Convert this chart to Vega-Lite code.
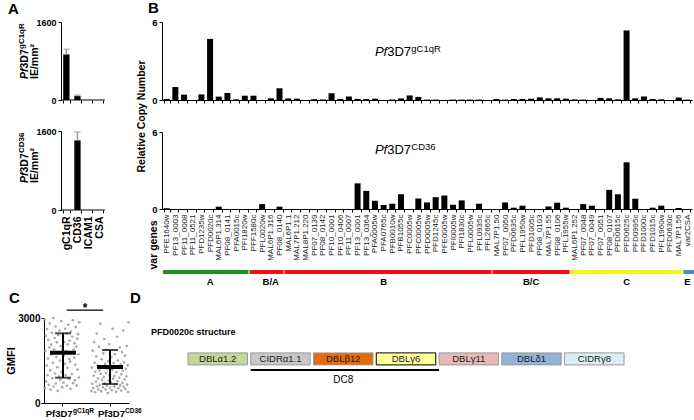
{
  "$schema": "https://vega.github.io/schema/vega-lite/v6.json",
  "padding": {"left": 5, "top": 1, "right": 0, "bottom": 0},
  "config": {
    "font": "Liberation Sans",
    "view": {"stroke": null},
    "axis": {"grid": false, "domainColor": "#000", "tickColor": "#000", "labelColor": "#000", "titleColor": "#000", "tickSize": 3, "labelFont": "Liberation Sans", "titleFont": "Liberation Sans"},
    "title": {"font": "Liberation Sans", "fontWeight": "bold", "fontSize": 15, "anchor": "start", "frame": "group", "color": "#000", "offset": 4}
  },
  "datasets": {
    "genes": [
      {"gene": "PFE1640w", "group": "A", "gC1qR": 0.08, "CD36": 0.06},
      {"gene": "PF13_0003", "group": "A", "gC1qR": 1.0, "CD36": 0},
      {"gene": "PF11_0008", "group": "A", "gC1qR": 0.41, "CD36": 0},
      {"gene": "PF11_0521", "group": "A", "gC1qR": 0, "CD36": 0},
      {"gene": "PFD1235w", "group": "A", "gC1qR": 0.43, "CD36": 0},
      {"gene": "PFD0020c", "group": "A", "gC1qR": 4.7, "CD36": 0},
      {"gene": "MAL6P1.314", "group": "A", "gC1qR": 0.26, "CD36": 0.18},
      {"gene": "PF08_0141", "group": "A", "gC1qR": 0.54, "CD36": 0},
      {"gene": "PFA0015c", "group": "A", "gC1qR": 0.05, "CD36": 0},
      {"gene": "PFI1820w", "group": "A", "gC1qR": 0.33, "CD36": 0},
      {"gene": "PFF1580c", "group": "B/A", "gC1qR": 0.33, "CD36": 0},
      {"gene": "PFL0020w", "group": "B/A", "gC1qR": 0, "CD36": 0.38},
      {"gene": "MAL6P1.316", "group": "B/A", "gC1qR": 0.13, "CD36": 0},
      {"gene": "PF08_0140", "group": "B/A", "gC1qR": 0.9, "CD36": 0.18},
      {"gene": "MAL6P1.1", "group": "B", "gC1qR": 0.12, "CD36": 0},
      {"gene": "MAL7P1.212", "group": "B", "gC1qR": 0.1, "CD36": 0},
      {"gene": "MAL8P1.220", "group": "B", "gC1qR": 0, "CD36": 0},
      {"gene": "PF07_0139", "group": "B", "gC1qR": 0.06, "CD36": 0},
      {"gene": "PF08_0142", "group": "B", "gC1qR": 0.04, "CD36": 0},
      {"gene": "PF10_0001", "group": "B", "gC1qR": 0.52, "CD36": 0},
      {"gene": "PF10_0406", "group": "B", "gC1qR": 0.08, "CD36": 0},
      {"gene": "PF11_0007", "group": "B", "gC1qR": 0.27, "CD36": 0},
      {"gene": "PF13_0001", "group": "B", "gC1qR": 0.08, "CD36": 2.0},
      {"gene": "PF13_0364", "group": "B", "gC1qR": 0.08, "CD36": 1.41},
      {"gene": "PFA0005w", "group": "B", "gC1qR": 0.1, "CD36": 0.64},
      {"gene": "PFA0765c", "group": "B", "gC1qR": 0, "CD36": 0.31},
      {"gene": "PFB0010w", "group": "B", "gC1qR": 0.04, "CD36": 0.41},
      {"gene": "PFB1055c", "group": "B", "gC1qR": 0.12, "CD36": 1.15},
      {"gene": "PFC0005w", "group": "B", "gC1qR": 0.35, "CD36": 0},
      {"gene": " PFC0005w", "group": "B", "gC1qR": 0.24, "CD36": 0.82},
      {"gene": "PFD0005w", "group": "B", "gC1qR": 0.03, "CD36": 0.51},
      {"gene": "PFD1245c", "group": "B", "gC1qR": 0.03, "CD36": 0.92},
      {"gene": "PFE0005w", "group": "B", "gC1qR": 0, "CD36": 1.05},
      {"gene": "PFI0005w", "group": "B", "gC1qR": 0.03, "CD36": 0.33},
      {"gene": "PFI1830c", "group": "B", "gC1qR": 0.03, "CD36": 0.67},
      {"gene": "PFL0005w", "group": "B", "gC1qR": 0.03, "CD36": 0},
      {"gene": "PFL0935c", "group": "B", "gC1qR": 0.03, "CD36": 0.41},
      {"gene": "PFL2665c", "group": "B", "gC1qR": 0, "CD36": 0},
      {"gene": "MAL7P1.50", "group": "B/C", "gC1qR": 0.08, "CD36": 0},
      {"gene": "PF07_0050", "group": "B/C", "gC1qR": 0.03, "CD36": 0.51},
      {"gene": "PFD0635c", "group": "B/C", "gC1qR": 0.08, "CD36": 0.1},
      {"gene": "PFL1950w", "group": "B/C", "gC1qR": 0.08, "CD36": 0.26},
      {"gene": "PFD1005c", "group": "B/C", "gC1qR": 0.1, "CD36": 0},
      {"gene": "PF08_0103", "group": "B/C", "gC1qR": 0.2, "CD36": 0},
      {"gene": "MAL7P1.55", "group": "B/C", "gC1qR": 0.13, "CD36": 0.2},
      {"gene": "PF08_0106", "group": "B/C", "gC1qR": 0.13, "CD36": 0.49},
      {"gene": "PFL1955w", "group": "B/C", "gC1qR": 0.1, "CD36": 0.1},
      {"gene": "MAL6P1.252", "group": "C", "gC1qR": 0.05, "CD36": 0},
      {"gene": "PF07_0048", "group": "C", "gC1qR": 0.03, "CD36": 0.38},
      {"gene": "PF07_0049", "group": "C", "gC1qR": 0, "CD36": 0.26},
      {"gene": "PF07_0051", "group": "C", "gC1qR": 0.16, "CD36": 0},
      {"gene": "PF08_0107", "group": "C", "gC1qR": 0.13, "CD36": 1.49},
      {"gene": "PFD0615c", "group": "C", "gC1qR": 0.05, "CD36": 1.15},
      {"gene": "PFD0625c", "group": "C", "gC1qR": 5.35, "CD36": 3.64},
      {"gene": "PFD0995c", "group": "C", "gC1qR": 0.13, "CD36": 0.8},
      {"gene": "PFD1000c", "group": "C", "gC1qR": 0.27, "CD36": 0},
      {"gene": "PFD1015c", "group": "C", "gC1qR": 0.08, "CD36": 0.1},
      {"gene": "PFL1960w", "group": "C", "gC1qR": 0.05, "CD36": 0.26},
      {"gene": "PFD0630c", "group": "C", "gC1qR": 0, "CD36": 0},
      {"gene": "MAL7P1.56", "group": "C", "gC1qR": 0.19, "CD36": 0.08},
      {"gene": "var2CSA", "group": "E", "gC1qR": 0.03, "CD36": 0}
    ],
    "groups": [
      {"group": "A", "anchor": "PFD0020c", "first": "PFE1640w"},
      {"group": "B/A", "anchor": "MAL6P1.316", "first": "PFF1580c"},
      {"group": "B", "anchor": "PFA0765c", "first": "MAL6P1.1"},
      {"group": "B/C", "anchor": "PFD1005c", "first": "MAL7P1.50"},
      {"group": "C", "anchor": "PFD0625c", "first": "MAL6P1.252"},
      {"group": "E", "anchor": "var2CSA", "first": "var2CSA"}
    ],
    "binding": [
      {"cat": "gC1qR", "top": 935, "topErr": 1040, "bottom": 0, "bottomErr": null},
      {"cat": "CD36", "top": 80, "topErr": 100, "bottom": 1410, "bottomErr": 1580},
      {"cat": "ICAM1", "top": 0, "topErr": null, "bottom": 0, "bottomErr": null},
      {"cat": "CSA", "top": 0, "topErr": null, "bottom": 0, "bottomErr": null}
    ],
    "gmfi": [
      {"g":"gC1qR","id":1,"v":2950},{"g":"gC1qR","id":2,"v":520},{"g":"gC1qR","id":3,"v":1840},{"g":"gC1qR","id":4,"v":2380},{"g":"gC1qR","id":5,"v":760},
      {"g":"gC1qR","id":6,"v":1320},{"g":"gC1qR","id":7,"v":2610},{"g":"gC1qR","id":8,"v":980},{"g":"gC1qR","id":9,"v":1570},{"g":"gC1qR","id":10,"v":2230},
      {"g":"gC1qR","id":11,"v":640},{"g":"gC1qR","id":12,"v":1960},{"g":"gC1qR","id":13,"v":2810},{"g":"gC1qR","id":14,"v":1150},{"g":"gC1qR","id":15,"v":470},
      {"g":"gC1qR","id":16,"v":2060},{"g":"gC1qR","id":17,"v":1710},{"g":"gC1qR","id":18,"v":2480},{"g":"gC1qR","id":19,"v":870},{"g":"gC1qR","id":20,"v":1420},
      {"g":"gC1qR","id":21,"v":3000},{"g":"gC1qR","id":22,"v":580},{"g":"gC1qR","id":23,"v":1890},{"g":"gC1qR","id":24,"v":2290},{"g":"gC1qR","id":25,"v":1040},
      {"g":"gC1qR","id":26,"v":2700},{"g":"gC1qR","id":27,"v":690},{"g":"gC1qR","id":28,"v":1620},{"g":"gC1qR","id":29,"v":2140},{"g":"gC1qR","id":30,"v":1260},
      {"g":"gC1qR","id":31,"v":430},{"g":"gC1qR","id":32,"v":2400},{"g":"gC1qR","id":33,"v":1790},{"g":"gC1qR","id":34,"v":930},{"g":"gC1qR","id":35,"v":2560},
      {"g":"gC1qR","id":36,"v":1500},{"g":"gC1qR","id":37,"v":810},{"g":"gC1qR","id":38,"v":2010},{"g":"gC1qR","id":39,"v":2890},{"g":"gC1qR","id":40,"v":1100},
      {"g":"gC1qR","id":41,"v":560},{"g":"gC1qR","id":42,"v":1930},{"g":"gC1qR","id":43,"v":2330},{"g":"gC1qR","id":44,"v":720},{"g":"gC1qR","id":45,"v":1680},
      {"g":"gC1qR","id":46,"v":2150},{"g":"gC1qR","id":47,"v":1380},{"g":"gC1qR","id":48,"v":2620},{"g":"gC1qR","id":49,"v":990},{"g":"gC1qR","id":50,"v":1830},
      {"g":"gC1qR","id":51,"v":2450},{"g":"gC1qR","id":52,"v":610},{"g":"gC1qR","id":53,"v":1240},{"g":"gC1qR","id":54,"v":2070},{"g":"gC1qR","id":55,"v":2760},
      {"g":"gC1qR","id":56,"v":850},{"g":"gC1qR","id":57,"v":1550},{"g":"gC1qR","id":58,"v":2200},{"g":"gC1qR","id":59,"v":1460},{"g":"gC1qR","id":60,"v":500},
      {"g":"gC1qR","id":61,"v":2520},{"g":"gC1qR","id":62,"v":1760},{"g":"gC1qR","id":63,"v":1020},{"g":"gC1qR","id":64,"v":2340},{"g":"gC1qR","id":65,"v":2920},
      {"g":"gC1qR","id":66,"v":700},{"g":"gC1qR","id":67,"v":1880},{"g":"gC1qR","id":68,"v":1600},{"g":"gC1qR","id":69,"v":2110},{"g":"gC1qR","id":70,"v":800},
      {"g":"gC1qR","id":71,"v":1350},{"g":"gC1qR","id":72,"v":2680},{"g":"gC1qR","id":73,"v":1990},{"g":"gC1qR","id":74,"v":620},{"g":"gC1qR","id":75,"v":2270},
      {"g":"gC1qR","id":76,"v":1180},{"g":"gC1qR","id":77,"v":2430},{"g":"gC1qR","id":78,"v":1720},{"g":"gC1qR","id":79,"v":900},{"g":"gC1qR","id":80,"v":2850},
      {"g":"CD36","id":1,"v":420},{"g":"CD36","id":2,"v":1250},{"g":"CD36","id":3,"v":680},{"g":"CD36","id":4,"v":1850},{"g":"CD36","id":5,"v":530},
      {"g":"CD36","id":6,"v":960},{"g":"CD36","id":7,"v":2150},{"g":"CD36","id":8,"v":1420},{"g":"CD36","id":9,"v":380},{"g":"CD36","id":10,"v":1100},
      {"g":"CD36","id":11,"v":760},{"g":"CD36","id":12,"v":1640},{"g":"CD36","id":13,"v":2450},{"g":"CD36","id":14,"v":590},{"g":"CD36","id":15,"v":1320},
      {"g":"CD36","id":16,"v":870},{"g":"CD36","id":17,"v":470},{"g":"CD36","id":18,"v":1980},{"g":"CD36","id":19,"v":1150},{"g":"CD36","id":20,"v":640},
      {"g":"CD36","id":21,"v":2800},{"g":"CD36","id":22,"v":1030},{"g":"CD36","id":23,"v":410},{"g":"CD36","id":24,"v":1540},{"g":"CD36","id":25,"v":820},
      {"g":"CD36","id":26,"v":1270},{"g":"CD36","id":27,"v":560},{"g":"CD36","id":28,"v":1750},{"g":"CD36","id":29,"v":920},{"g":"CD36","id":30,"v":2260},
      {"g":"CD36","id":31,"v":700},{"g":"CD36","id":32,"v":1380},{"g":"CD36","id":33,"v":480},{"g":"CD36","id":34,"v":1060},{"g":"CD36","id":35,"v":1880},
      {"g":"CD36","id":36,"v":610},{"g":"CD36","id":37,"v":1200},{"g":"CD36","id":38,"v":350},{"g":"CD36","id":39,"v":1470},{"g":"CD36","id":40,"v":790},
      {"g":"CD36","id":41,"v":2080},{"g":"CD36","id":42,"v":990},{"g":"CD36","id":43,"v":540},{"g":"CD36","id":44,"v":1310},{"g":"CD36","id":45,"v":730},
      {"g":"CD36","id":46,"v":1620},{"g":"CD36","id":47,"v":450},{"g":"CD36","id":48,"v":1170},{"g":"CD36","id":49,"v":2620},{"g":"CD36","id":50,"v":860},
      {"g":"CD36","id":51,"v":1410},{"g":"CD36","id":52,"v":580},{"g":"CD36","id":53,"v":950},{"g":"CD36","id":54,"v":1720},{"g":"CD36","id":55,"v":660},
      {"g":"CD36","id":56,"v":1290},{"g":"CD36","id":57,"v":400},{"g":"CD36","id":58,"v":1090},{"g":"CD36","id":59,"v":2340},{"g":"CD36","id":60,"v":770},
      {"g":"CD36","id":61,"v":1500},{"g":"CD36","id":62,"v":520},{"g":"CD36","id":63,"v":1230},{"g":"CD36","id":64,"v":890},{"g":"CD36","id":65,"v":1960},
      {"g":"CD36","id":66,"v":620},{"g":"CD36","id":67,"v":1360},{"g":"CD36","id":68,"v":440},{"g":"CD36","id":69,"v":1010},{"g":"CD36","id":70,"v":1800},
      {"g":"CD36","id":71,"v":710},{"g":"CD36","id":72,"v":1140},{"g":"CD36","id":73,"v":2560},{"g":"CD36","id":74,"v":570},{"g":"CD36","id":75,"v":1440},
      {"g":"CD36","id":76,"v":830},{"g":"CD36","id":77,"v":1670},{"g":"CD36","id":78,"v":490},{"g":"CD36","id":79,"v":1210},{"g":"CD36","id":80,"v":940},
      {"g":"CD36","id":81,"v":2010},{"g":"CD36","id":82,"v":650},{"g":"CD36","id":83,"v":1330},{"g":"CD36","id":84,"v":390},{"g":"CD36","id":85,"v":2850}
    ],
    "gmfiSum": [
      {"g": "gC1qR", "mean": 1775, "lo": 893, "hi": 2460},
      {"g": "CD36", "mean": 1270, "lo": 670, "hi": 1870}
    ],
    "domains": [
      {"name": "DBLα1.2", "row": "box"},
      {"name": "CIDRα1.1", "row": "box"},
      {"name": "DBLβ12", "row": "box"},
      {"name": "DBLγ6", "row": "box"},
      {"name": "DBLγ11", "row": "box"},
      {"name": "DBLδ1", "row": "box"},
      {"name": "CIDRγ8", "row": "box"}
    ],
    "dc8": [
      {"from": "CIDRα1.1", "to": "DBLγ11", "mid": "DBLβ12", "row": "dc8", "label": "DC8"}
    ]
  },
  "spacing": 4,
  "align": "none",
  "resolve": {"scale": {"x": "independent", "y": "independent"}},
  "vconcat": [
    {
      "spacing": 30,
      "resolve": {"scale": {"x": "independent", "y": "independent"}},
      "hconcat": [
        {
          "title": {"text": "A", "dx": -36, "offset": 1},
          "bounds": "flush",
          "spacing": 31,
          "resolve": {"scale": {"x": "independent", "y": "independent"}},
          "vconcat": [
            {
              "width": 61, "height": 78,
              "layer": [
                {"data": {"name": "binding"}, "mark": {"type": "rule", "color": "#000", "strokeWidth": 6.3},
                 "encoding": {
                   "x": {"field": "cat", "type": "nominal", "sort": null, "scale": {"type": "band", "paddingInner": 0.43, "paddingOuter": 0.966, "align": 0.897}, "axis": {"labels": false, "title": null, "tickBand": "extent", "domain": false}},
                   "y": {"field": "top", "type": "quantitative", "scale": {"domain": [0, 1600], "nice": false}, "axis": {"values": [0, 400, 800, 1200, 1600], "format": "d", "title": null, "offset": -17, "labelFontWeight": "bold", "labelFontSize": 9, "labelPadding": 2}},
                   "y2": {"datum": 0}}},
                {"data": {"name": "binding"}, "transform": [{"filter": "datum.topErr != null"}],
                 "mark": {"type": "rule", "color": "#999", "strokeWidth": 1.5},
                 "encoding": {"x": {"field": "cat", "type": "nominal", "sort": null}, "y": {"field": "top", "type": "quantitative"}, "y2": {"field": "topErr"}}},
                {"data": {"name": "binding"}, "transform": [{"filter": "datum.topErr != null"}],
                 "mark": {"type": "tick", "color": "#999", "thickness": 1.5, "size": 6},
                 "encoding": {"x": {"field": "cat", "type": "nominal", "sort": null}, "y": {"field": "topErr", "type": "quantitative"}}},
                {"data": {"values": [{}]}, "mark": {"type": "rule", "color": "#000", "strokeWidth": 1},
                 "encoding": {"x": {"datum": "gC1qR", "bandPosition": -0.35}, "x2": {"datum": "CSA", "bandPosition": 1.35}, "y": {"datum": 0}}},
                {"data": {"values": [{}]}, "mark": {"type": "text", "text": "Pf", "angle": 270, "align": "left", "baseline": "alphabetic", "fontWeight": "bold", "fontStyle": "italic", "fontSize": 10.5, "dy": -38.4},
                 "encoding": {"x": {"datum": "gC1qR"}, "y": {"datum": 431}}},
                {"data": {"values": [{}]}, "mark": {"type": "text", "text": "3D7", "angle": 270, "align": "left", "baseline": "alphabetic", "fontWeight": "bold", "fontSize": 10.5, "dx": 10.5, "dy": -38.4},
                 "encoding": {"x": {"datum": "gC1qR"}, "y": {"datum": 431}}},
                {"data": {"values": [{}]}, "mark": {"type": "text", "text": "gC1qR", "angle": 270, "align": "left", "baseline": "alphabetic", "fontWeight": "bold", "fontSize": 8, "dx": 30, "dy": -42.5},
                 "encoding": {"x": {"datum": "gC1qR"}, "y": {"datum": 431}}},
                {"data": {"values": [{}]}, "mark": {"type": "text", "text": "IE/mm²", "angle": 270, "align": "left", "baseline": "alphabetic", "fontWeight": "bold", "fontSize": 10.5, "dy": -28.4},
                 "encoding": {"x": {"datum": "gC1qR"}, "y": {"datum": 431}}}
              ]
            },
            {
              "width": 61, "height": 79,
              "layer": [
                {"data": {"name": "binding"}, "mark": {"type": "rule", "color": "#000", "strokeWidth": 6.3},
                 "encoding": {
                   "x": {"field": "cat", "type": "nominal", "sort": null, "scale": {"type": "band", "paddingInner": 0.43, "paddingOuter": 0.966, "align": 0.897}, "axis": {"title": null, "tickBand": "extent", "domain": false, "labelAngle": 270, "labelFontWeight": "bold", "labelFontSize": 10.5, "labelPadding": 3}},
                   "y": {"field": "bottom", "type": "quantitative", "scale": {"domain": [0, 1600], "nice": false}, "axis": {"values": [0, 400, 800, 1200, 1600], "format": "d", "title": null, "offset": -17, "labelFontWeight": "bold", "labelFontSize": 9, "labelPadding": 2}},
                   "y2": {"datum": 0}}},
                {"data": {"name": "binding"}, "transform": [{"filter": "datum.bottomErr != null"}],
                 "mark": {"type": "rule", "color": "#999", "strokeWidth": 1.5},
                 "encoding": {"x": {"field": "cat", "type": "nominal", "sort": null}, "y": {"field": "bottom", "type": "quantitative"}, "y2": {"field": "bottomErr"}}},
                {"data": {"name": "binding"}, "transform": [{"filter": "datum.bottomErr != null"}],
                 "mark": {"type": "tick", "color": "#999", "thickness": 1.5, "size": 6},
                 "encoding": {"x": {"field": "cat", "type": "nominal", "sort": null}, "y": {"field": "bottomErr", "type": "quantitative"}}},
                {"data": {"values": [{}]}, "mark": {"type": "rule", "color": "#000", "strokeWidth": 1},
                 "encoding": {"x": {"datum": "gC1qR", "bandPosition": -0.35}, "x2": {"datum": "CSA", "bandPosition": 1.35}, "y": {"datum": 0}}},
                {"data": {"values": [{}]}, "mark": {"type": "text", "text": "Pf", "angle": 270, "align": "left", "baseline": "alphabetic", "fontWeight": "bold", "fontStyle": "italic", "fontSize": 10.5, "dy": -38.4},
                 "encoding": {"x": {"datum": "gC1qR"}, "y": {"datum": 547}}},
                {"data": {"values": [{}]}, "mark": {"type": "text", "text": "3D7", "angle": 270, "align": "left", "baseline": "alphabetic", "fontWeight": "bold", "fontSize": 10.5, "dx": 10.5, "dy": -38.4},
                 "encoding": {"x": {"datum": "gC1qR"}, "y": {"datum": 547}}},
                {"data": {"values": [{}]}, "mark": {"type": "text", "text": "CD36", "angle": 270, "align": "left", "baseline": "alphabetic", "fontWeight": "bold", "fontSize": 8, "dx": 30, "dy": -42.5},
                 "encoding": {"x": {"datum": "gC1qR"}, "y": {"datum": 547}}},
                {"data": {"values": [{}]}, "mark": {"type": "text", "text": "IE/mm²", "angle": 270, "align": "left", "baseline": "alphabetic", "fontWeight": "bold", "fontSize": 10.5, "dy": -28.4},
                 "encoding": {"x": {"datum": "gC1qR"}, "y": {"datum": 547}}}
              ]
            }
          ]
        },
        {
          "title": {"text": "B", "dx": -14, "offset": 1},
          "bounds": "flush",
          "spacing": 32,
          "resolve": {"scale": {"x": "independent", "y": "independent"}},
          "vconcat": [
            {
              "width": 530, "height": 78,
              "layer": [
                {"data": {"name": "genes"}, "mark": {"type": "rule", "color": "#000", "strokeWidth": 6},
                 "encoding": {
                   "x": {"field": "gene", "type": "nominal", "sort": null, "scale": {"type": "band", "paddingInner": 0.3, "paddingOuter": 0.19}, "axis": {"labels": false, "title": null, "tickBand": "extent"}},
                   "y": {"field": "gC1qR", "type": "quantitative", "scale": {"domain": [0, 6], "nice": false}, "axis": {"values": [0, 2, 4, 6], "title": "Relative Copy Number", "titleFontSize": 10.5, "titleFontWeight": "bold", "titleY": 94, "titlePadding": 5, "labelFontWeight": "bold", "labelFontSize": 9.5, "labelPadding": 2}},
                   "y2": {"datum": 0}}},
                {"data": {"values": [{}]}, "mark": {"type": "text", "text": "Pf", "fontStyle": "italic", "fontSize": 13, "align": "left", "baseline": "alphabetic"},
                 "encoding": {"x": {"datum": "PFA0005w"}, "y": {"datum": 3.35}}},
                {"data": {"values": [{}]}, "mark": {"type": "text", "text": "3D7", "fontSize": 13, "align": "left", "baseline": "alphabetic", "dx": 12.3},
                 "encoding": {"x": {"datum": "PFA0005w"}, "y": {"datum": 3.35}}},
                {"data": {"values": [{}]}, "mark": {"type": "text", "text": "gC1qR", "fontSize": 9.5, "align": "left", "baseline": "alphabetic", "dx": 36.4, "dy": -4},
                 "encoding": {"x": {"datum": "PFA0005w"}, "y": {"datum": 3.35}}}
              ]
            },
            {
              "width": 530, "height": 77,
              "layer": [
                {"data": {"name": "genes"}, "mark": {"type": "rule", "color": "#000", "strokeWidth": 6},
                 "encoding": {
                   "x": {"field": "gene", "type": "nominal", "sort": null, "scale": {"type": "band", "paddingInner": 0.3, "paddingOuter": 0.19},
                         "axis": {"title": "var genes", "titleAngle": 270, "titleAlign": "left", "titleBaseline": "alphabetic", "titleX": -6, "titleY": 60, "titleFontSize": 10.5, "titleFontWeight": "bold", "labelAngle": 270, "labelFontSize": 8, "labelPadding": 2, "labelColor": "#222", "tickBand": "extent"}},
                   "y": {"field": "CD36", "type": "quantitative", "scale": {"domain": [0, 6], "nice": false}, "axis": {"values": [0, 2, 4, 6], "title": null, "labelFontWeight": "bold", "labelFontSize": 9.5, "labelPadding": 2}},
                   "y2": {"datum": 0}}},
                {"data": {"values": [{}]}, "mark": {"type": "text", "text": "Pf", "fontStyle": "italic", "fontSize": 13, "align": "left", "baseline": "alphabetic"},
                 "encoding": {"x": {"datum": "PFA0005w"}, "y": {"datum": 4.31}}},
                {"data": {"values": [{}]}, "mark": {"type": "text", "text": "3D7", "fontSize": 13, "align": "left", "baseline": "alphabetic", "dx": 12.3},
                 "encoding": {"x": {"datum": "PFA0005w"}, "y": {"datum": 4.31}}},
                {"data": {"values": [{}]}, "mark": {"type": "text", "text": "CD36", "fontSize": 9.5, "align": "left", "baseline": "alphabetic", "dx": 36.4, "dy": -4},
                 "encoding": {"x": {"datum": "PFA0005w"}, "y": {"datum": 4.31}}}
              ]
            },
            {
              "width": 530, "height": 33,
              "layer": [
                {"data": {"name": "genes"}, "mark": {"type": "rect"},
                 "encoding": {
                   "x": {"field": "gene", "type": "nominal", "sort": null, "scale": {"type": "band", "paddingInner": 0, "paddingOuter": 0.04}, "axis": null},
                   "y": {"datum": 0.12, "type": "quantitative", "scale": {"domain": [0, 1], "nice": false}, "axis": null},
                   "y2": {"datum": 0},
                   "color": {"field": "group", "type": "nominal", "scale": {"domain": ["A", "B/A", "B", "B/C", "C", "E"], "range": ["#1f8f1f", "#ee1111", "#ee1111", "#ee1111", "#f7f711", "#4a86c8"]}, "legend": null}}},
                {"data": {"name": "groups"}, "mark": {"type": "rule", "color": "#fff", "strokeWidth": 1},
                 "encoding": {"x": {"field": "first", "type": "nominal", "sort": null, "bandPosition": 0}, "y": {"datum": 0.12, "type": "quantitative"}, "y2": {"datum": 0}}},
                {"data": {"name": "groups"}, "mark": {"type": "text", "fontSize": 9.5, "fontWeight": "bold", "baseline": "middle", "dy": 8},
                 "encoding": {"x": {"field": "anchor", "type": "nominal", "sort": null}, "y": {"datum": 0, "type": "quantitative"}, "text": {"field": "group"}}}
              ]
            }
          ]
        }
      ]
    },
    {
      "spacing": -12,
      "resolve": {"scale": {"x": "independent", "y": "independent"}},
      "hconcat": [
        {
          "width": 85, "height": 85,
          "title": {"text": "C", "dx": -35, "dy": 8},
          "layer": [
            {"data": {"name": "gmfi"}, "mark": {"type": "point", "filled": true, "color": "#9a9a9a", "size": 7, "opacity": 0.85},
             "encoding": {
               "x": {"field": "g", "type": "nominal", "sort": ["gC1qR", "CD36"], "scale": {"type": "band", "paddingInner": 0.192, "paddingOuter": 0}, "axis": {"labels": false, "title": null}},
               "xOffset": {"field": "id", "type": "nominal", "scale": {"paddingOuter": 18}},
               "y": {"field": "v", "type": "quantitative", "scale": {"domain": [0, 3000], "nice": false}, "axis": {"values": [0, 1000, 2000, 3000], "format": "d", "title": "GMFI", "titleFontWeight": "bold", "titleFontSize": 11, "titlePadding": 1, "labelFontWeight": "bold", "labelFontSize": 10, "labelPadding": 1}}}},
            {"data": {"name": "gmfiSum"}, "mark": {"type": "rule", "color": "#000", "strokeWidth": 2},
             "encoding": {"x": {"field": "g", "type": "nominal", "sort": ["gC1qR", "CD36"]}, "y": {"field": "lo", "type": "quantitative"}, "y2": {"field": "hi"}}},
            {"data": {"name": "gmfiSum"}, "mark": {"type": "tick", "color": "#000", "thickness": 2, "size": 16},
             "encoding": {"x": {"field": "g", "type": "nominal", "sort": ["gC1qR", "CD36"]}, "y": {"field": "lo", "type": "quantitative"}}},
            {"data": {"name": "gmfiSum"}, "mark": {"type": "tick", "color": "#000", "thickness": 2, "size": 16},
             "encoding": {"x": {"field": "g", "type": "nominal", "sort": ["gC1qR", "CD36"]}, "y": {"field": "hi", "type": "quantitative"}}},
            {"data": {"name": "gmfiSum"}, "mark": {"type": "tick", "color": "#000", "thickness": 4, "size": 26, "opacity": 1},
             "encoding": {"x": {"field": "g", "type": "nominal", "sort": ["gC1qR", "CD36"]}, "y": {"field": "mean", "type": "quantitative"}}},
            {"data": {"values": [{}]}, "mark": {"type": "rule", "color": "#000", "strokeWidth": 1.2, "clip": false},
             "encoding": {"x": {"datum": "gC1qR", "bandPosition": 0.6}, "x2": {"datum": "CD36", "bandPosition": 0.32}, "y": {"datum": 3280}}},
            {"data": {"values": [{}]}, "mark": {"type": "text", "text": "*", "fontSize": 12, "fontWeight": "bold", "baseline": "alphabetic", "dy": 2},
             "encoding": {"x": {"datum": "gC1qR", "bandPosition": 1.08}, "y": {"datum": 3280}}},
            {"data": {"values": [{}]}, "mark": {"type": "text", "text": "Pf3D7", "fontSize": 9.5, "fontWeight": "bold", "align": "left", "baseline": "alphabetic", "dx": -17.3, "dy": 14},
             "encoding": {"x": {"datum": "gC1qR"}, "y": {"datum": 0}}},
            {"data": {"values": [{}]}, "mark": {"type": "text", "text": "gC1qR", "fontSize": 6.5, "fontWeight": "bold", "align": "left", "baseline": "alphabetic", "dx": 10, "dy": 10},
             "encoding": {"x": {"datum": "gC1qR"}, "y": {"datum": 0}}},
            {"data": {"values": [{}]}, "mark": {"type": "text", "text": "Pf3D7", "fontSize": 9.5, "fontWeight": "bold", "align": "left", "baseline": "alphabetic", "dx": -12, "dy": 14},
             "encoding": {"x": {"datum": "CD36"}, "y": {"datum": 0}}},
            {"data": {"values": [{}]}, "mark": {"type": "text", "text": "CD36", "fontSize": 6.5, "fontWeight": "bold", "align": "left", "baseline": "alphabetic", "dx": 15, "dy": 10},
             "encoding": {"x": {"datum": "CD36"}, "y": {"datum": 0}}}
          ]
        },
        {
          "title": {"text": "D", "dx": -58, "dy": -8},
          "resolve": {"scale": {"x": "independent", "y": "independent"}},
          "vconcat": [
            {
              "width": 436, "height": 64.5,
              "title": {"text": "PFD0020c structure", "fontSize": 9, "dx": -37, "offset": 8, "dy": 27},
              "layer": [
                {"data": {"name": "domains"}, "mark": {"type": "tick", "orient": "horizontal", "size": 59.5, "thickness": 12, "strokeWidth": 1, "opacity": 1},
                 "encoding": {
                   "x": {"field": "name", "type": "nominal", "sort": null, "scale": {"type": "band", "paddingInner": 0.053, "paddingOuter": 0}, "axis": null},
                   "y": {"field": "row", "type": "nominal", "scale": {"type": "band", "domain": ["box", "dc8"], "paddingInner": 0.273, "paddingOuter": 1.09, "align": 1}, "axis": null},
                   "fill": {"field": "name", "type": "nominal", "sort": null, "scale": {"domain": ["DBLα1.2", "CIDRα1.1", "DBLβ12", "DBLγ6", "DBLγ11", "DBLδ1", "CIDRγ8"], "range": ["#c4d79b", "#c8c8c8", "#e46c0a", "#ffff99", "#e6b9b8", "#95b3d7", "#dbeef3"]}, "legend": null},
                   "stroke": {"condition": {"test": "datum.name === 'DBLγ6'", "value": "#000"}, "value": "#999"}}},
                {"data": {"name": "domains"}, "mark": {"type": "text", "fontSize": 9.5, "color": "#222"},
                 "encoding": {"x": {"field": "name", "type": "nominal", "sort": null}, "y": {"field": "row", "type": "nominal"}, "text": {"field": "name"}}},
                {"data": {"name": "dc8"}, "mark": {"type": "rule", "strokeWidth": 2, "color": "#000"},
                 "encoding": {"x": {"field": "from", "type": "nominal", "sort": null, "bandPosition": 0}, "x2": {"field": "to", "bandPosition": 0}, "y": {"field": "row", "type": "nominal", "bandPosition": 0}}},
                {"data": {"name": "dc8"}, "mark": {"type": "text", "fontSize": 10, "baseline": "middle"},
                 "encoding": {"x": {"field": "mid", "type": "nominal", "sort": null}, "y": {"field": "row", "type": "nominal", "bandPosition": 0.8}, "text": {"field": "label"}}}
              ]
            }
          ]
        }
      ]
    }
  ]
}
